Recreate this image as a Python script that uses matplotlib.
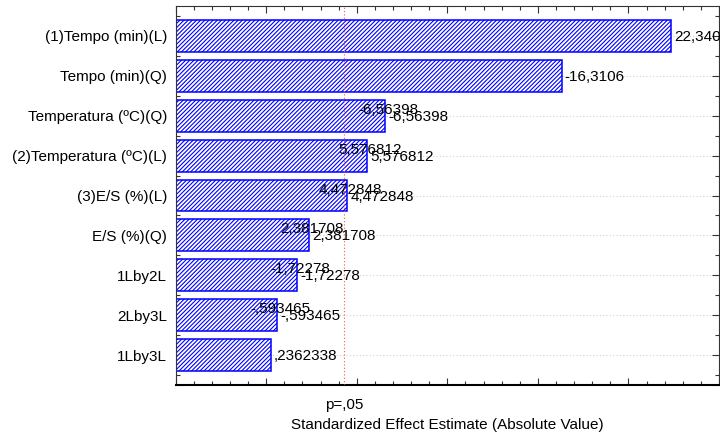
import numpy as np
import matplotlib
matplotlib.use("Agg")
import matplotlib.pyplot as plt
import matplotlib.transforms as mtransforms
from matplotlib.ticker import MultipleLocator

plt.rcParams['font.family'] = ['Liberation Sans', 'DejaVu Sans']
plt.rcParams['hatch.linewidth'] = 0.8

# pareto of standardized effects
terms = ["(1)Tempo (min)(L)", "Tempo (min)(Q)", "Temperatura (ºC)(Q)",
         "(2)Temperatura (ºC)(L)", "(3)E/S (%)(L)", "E/S (%)(Q)",
         "1Lby2L", "2Lby3L", "1Lby3L"]
effects = [22.34061, -16.3106, -6.56398, 5.576812, 4.472848, 2.381708,
           -1.72278, -0.593465, 0.2362338]
# terms whose value was printed a second time inside the bar end
twice = [False, False, True, True, True, True, True, True, False]
t_crit = 4.302653  # p=.05, 2 df

x_min, x_max = -5, 25
fs = 11

def fmt(v):
    s = "%.7g" % v
    s = s.replace("-0.", "-.")
    if s.startswith("0."):
        s = s[1:]
    return s.replace(".", ",")

fig = plt.figure(figsize=(7.2, 4.34), dpi=100)
ax = fig.add_axes([0.244, 0.113, 0.7546, 0.873])

y = np.arange(len(terms))
size = np.abs(effects)
ax.barh(y, size - x_min, left=x_min, height=0.8, color="white",
        edgecolor="#0000ff", hatch="////////", linewidth=1.1, zorder=2)

for yi in y:
    ax.axhline(yi, color="#d0d0d0", lw=0.8, ls=(0, (1, 2)), zorder=1)

ax.axvline(t_crit, color="#ff5050", lw=0.8, ls=(0, (1, 2)), zorder=3)

off = mtransforms.offset_copy
for yi, v, s, tw in zip(y, effects, size, twice):
    lbl = fmt(v)
    if tw:
        ax.text(s, yi, lbl, ha="center", va="center", fontsize=fs,
                transform=off(ax.transData, fig=fig, x=3, y=6, units="dots"),
                zorder=4)
    ax.text(s, yi, lbl, ha="left", va="center", fontsize=fs,
            transform=off(ax.transData, fig=fig, x=3, y=-1, units="dots"),
            zorder=4, clip_on=False)

ax.set_xlim(x_min, x_max)
ax.set_ylim(len(terms) - 0.25, -0.75)
ax.set_yticks(y)
ax.set_yticklabels(terms, fontsize=fs)
ax.yaxis.set_minor_locator(MultipleLocator(0.5))
ax.xaxis.set_major_locator(MultipleLocator(5))
ax.xaxis.set_minor_locator(MultipleLocator(1))
ax.set_xticklabels([])
ax.tick_params(which="both", direction="in", top=True, right=True,
               color="#333333", width=0.8)
ax.tick_params(which="major", length=5)
ax.tick_params(which="minor", length=3)
ax.tick_params(axis="y", pad=6)

tr = mtransforms.blended_transform_factory(ax.transData, ax.transAxes)
ax.text(t_crit, -0.035, "p=,05", transform=tr, ha="center", va="top",
        fontsize=fs)
ax.set_xlabel("Standardized Effect Estimate (Absolute Value)", fontsize=fs,
              labelpad=20)

for sp in ax.spines.values():
    sp.set_color("#333333")
    sp.set_linewidth(0.8)
ax.spines["bottom"].set_linewidth(1.5)
ax.spines["bottom"].set_color("black")

fig.savefig("out.png", dpi=100)
